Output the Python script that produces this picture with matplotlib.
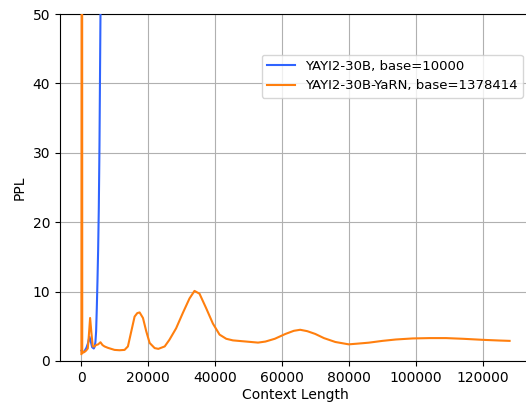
import numpy as np
import matplotlib.pyplot as plt

# YAYI2-30B, base=10000
base_len = [0, 500, 900, 1500, 2000, 2400, 2800, 3200, 3700, 4000, 4200,
            4400, 4600, 4800, 5000, 5200, 5400, 5700, 6000]
base_ppl = [1.5, 1.3, 1.4, 1.9, 2.6, 3.5, 2.8, 2.0, 1.8, 2.1, 2.8,
            4.3, 7.6, 11.5, 16.0, 22.0, 31.0, 50.0, 75.0]

# YAYI2-30B-YaRN, base=1378414
yarn_len = [0, 50, 150, 250, 500, 900, 1400, 1900, 2200, 2600, 3000, 3400,
            3900, 4400, 5000, 5700, 6300, 6900, 7900, 8900, 9900, 11400,
            12900, 13900, 14900, 15900, 16700, 17400, 18400, 19400, 20400,
            21900, 23000, 24900, 26300, 28300, 30300, 32300, 33800, 35300,
            37300, 39300, 41300, 43300, 45300, 49300, 52800, 55000, 57800,
            61000, 63500, 65400, 67500, 69900, 72500, 75900, 79900, 82500,
            85900, 90000, 94000, 99000, 104100, 109000, 114100, 120000,
            125000, 128000]
yarn_ppl = [1.0, 47.0, 200.0, 1.2, 1.2, 1.3, 1.5, 1.8, 3.5, 6.2, 4.0, 2.1,
            2.1, 2.3, 2.4, 2.7, 2.3, 2.1, 1.9, 1.75, 1.6, 1.55,
            1.6, 2.1, 4.25, 6.4, 6.9, 7.0, 6.2, 4.25, 2.6,
            1.86, 1.75, 2.1, 3.05, 4.7, 6.9, 9.0, 10.1, 9.7,
            7.6, 5.4, 3.8, 3.2, 2.97, 2.8, 2.65, 2.8, 3.2,
            3.9, 4.35, 4.5, 4.3, 3.9, 3.3, 2.74, 2.4, 2.5,
            2.64, 2.9, 3.1, 3.25, 3.3, 3.3, 3.2, 3.05,
            2.95, 2.9]

plt.rcParams.update({'font.family': 'DejaVu Sans', 'font.size': 10})

fig = plt.figure(figsize=(5.26, 4.05), dpi=100)
ax = fig.add_axes([60/526, 44/405, 471/526, 347/405])

ax.plot(base_len, base_ppl, c='#2f64ff', label='YAYI2-30B, base=10000',
        zorder=3, solid_joinstyle='round')
ax.plot(yarn_len, yarn_ppl, c='#ff7f0e', label='YAYI2-30B-YaRN, base=1378414',
        zorder=3, solid_joinstyle='round')

ax.set_xlim(-6400, 134400)
ax.set_ylim(0, 50)
ax.set_xticks([0, 20000, 40000, 60000, 80000, 100000, 120000])
ax.set_yticks([0, 10, 20, 30, 40, 50])
ax.grid(True)
ax.set_xlabel('Context Length', labelpad=2)
ax.set_ylabel('PPL')
ax.legend(loc='upper right', bbox_to_anchor=(0.983, 0.883), borderaxespad=0,
          fontsize=9.5, handlelength=2.1)

fig.savefig('out.png', dpi=100)
